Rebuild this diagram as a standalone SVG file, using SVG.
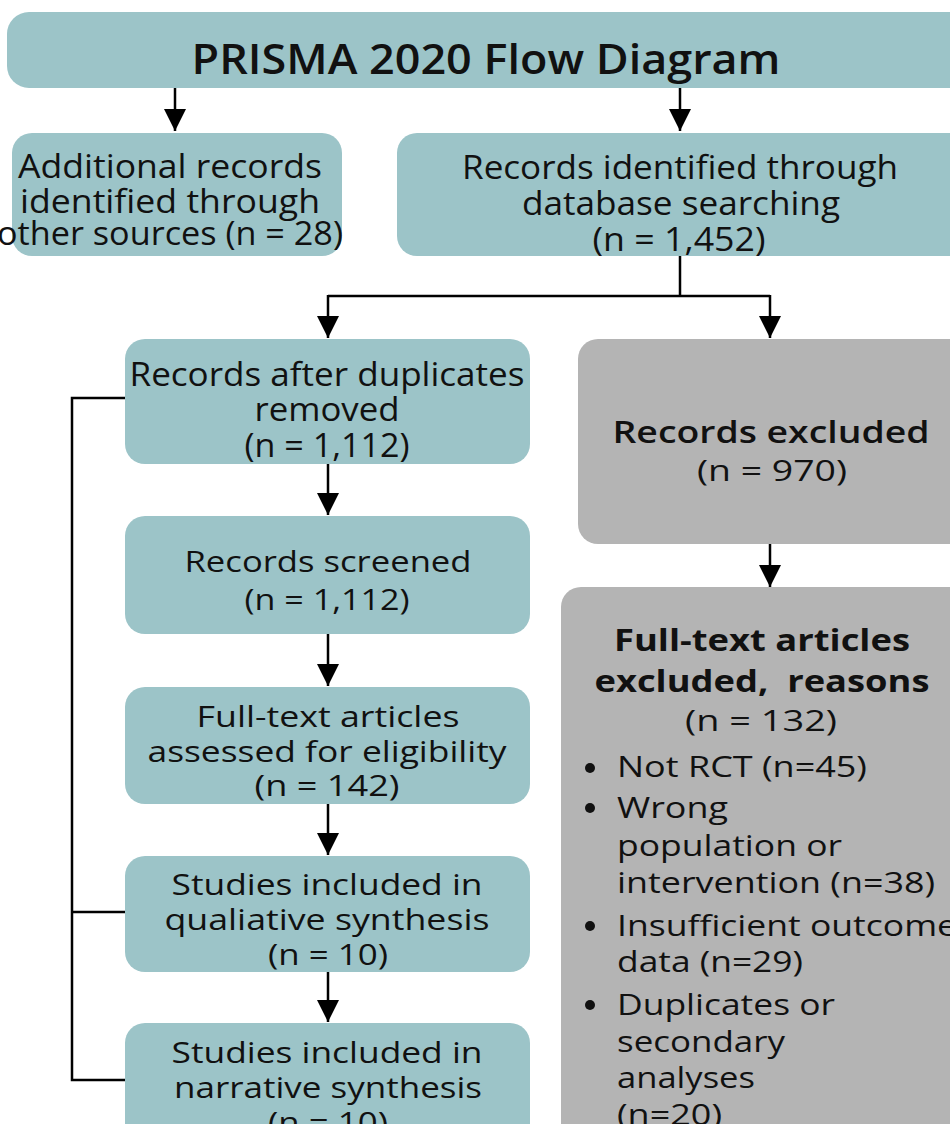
<svg xmlns="http://www.w3.org/2000/svg" width="950" height="1124" viewBox="0 0 950 1124">
<defs>
<style>
.teal{fill:#9cc4c8}
.gray{fill:#b4b4b4}
text{font-family:"Open Sans","Noto Sans","Liberation Sans",sans-serif;fill:#111}
.t{text-anchor:middle}
.u{font-size:32px}
.c{font-size:29px}
.s{font-weight:600}
.bd{font-weight:700;font-size:31px}
.bl{font-size:29px}
.ln{stroke:#000;stroke-width:2.5;fill:none}
.ar{stroke:#000;stroke-width:2.5;fill:none;marker-end:url(#ah)}
</style>
<marker id="ah" markerUnits="userSpaceOnUse" markerWidth="22" markerHeight="22" refX="20" refY="10" orient="auto" viewBox="0 0 20 20">
<path d="M0,0 L20,10 L0,20 z" fill="#000"/>
</marker>
</defs>
<rect width="950" height="1124" fill="#fff"/>

<g id="title">
<rect class="teal" x="7" y="12" width="1000" height="76" rx="22"/>
<text class="t" x="486" y="74" font-size="41" font-weight="600" textLength="589" lengthAdjust="spacingAndGlyphs">PRISMA 2020 Flow Diagram</text>
</g>

<g id="other-sources">
<rect class="teal" x="12" y="133" width="330" height="123" rx="20"/>
<text class="t u" x="170" y="178" textLength="304" lengthAdjust="spacingAndGlyphs">Additional records</text>
<text class="t u" x="170" y="213" textLength="300" lengthAdjust="spacingAndGlyphs">identified through</text>
<text class="t u" x="170" y="245" textLength="346" lengthAdjust="spacingAndGlyphs">other sources (n = 28)</text>
</g>

<g id="database">
<rect class="teal" x="397" y="133" width="600" height="123" rx="20"/>
<text class="t u" x="680" y="179" textLength="436" lengthAdjust="spacingAndGlyphs">Records identified through</text>
<text class="t u" x="681" y="215" textLength="318" lengthAdjust="spacingAndGlyphs">database searching</text>
<text class="t u" x="679" y="251" textLength="173" lengthAdjust="spacingAndGlyphs">(n = 1,452)</text>
</g>

<g id="after-duplicates">
<rect class="teal" x="125" y="339" width="405" height="125" rx="20"/>
<text class="t u" x="327" y="386" textLength="395" lengthAdjust="spacingAndGlyphs">Records after duplicates</text>
<text class="t u" x="327" y="421" textLength="145" lengthAdjust="spacingAndGlyphs">removed</text>
<text class="t u" x="327" y="457" textLength="165" lengthAdjust="spacingAndGlyphs">(n = 1,112)</text>
</g>

<g id="records-excluded">
<rect class="gray" x="578" y="339" width="420" height="205" rx="20"/>
<text class="t s" x="771" y="443" font-size="30" textLength="317" lengthAdjust="spacingAndGlyphs">Records excluded</text>
<text class="t c" x="772" y="481" textLength="150" lengthAdjust="spacingAndGlyphs">(n = 970)</text>
</g>

<g id="screened">
<rect class="teal" x="125" y="516" width="405" height="118" rx="20"/>
<text class="t c" x="328" y="572" textLength="287" lengthAdjust="spacingAndGlyphs">Records screened</text>
<text class="t c" x="327" y="610" textLength="165" lengthAdjust="spacingAndGlyphs">(n = 1,112)</text>
</g>

<g id="eligibility">
<rect class="teal" x="125" y="687" width="405" height="117" rx="20"/>
<text class="t c" x="328" y="727" textLength="263" lengthAdjust="spacingAndGlyphs">Full-text articles</text>
<text class="t c" x="327" y="762" textLength="359" lengthAdjust="spacingAndGlyphs">assessed for eligibility</text>
<text class="t c" x="327" y="796" textLength="145" lengthAdjust="spacingAndGlyphs">(n = 142)</text>
</g>

<g id="qualitative">
<rect class="teal" x="125" y="856" width="405" height="116" rx="20"/>
<text class="t c" x="327" y="895" textLength="311" lengthAdjust="spacingAndGlyphs">Studies included in</text>
<text class="t c" x="327" y="930" textLength="325" lengthAdjust="spacingAndGlyphs">qualiative synthesis</text>
<text class="t c" x="328" y="965" textLength="120" lengthAdjust="spacingAndGlyphs">(n = 10)</text>
</g>

<g id="narrative">
<rect class="teal" x="125" y="1023" width="405" height="130" rx="20"/>
<text class="t c" x="327" y="1063" textLength="311" lengthAdjust="spacingAndGlyphs">Studies included in</text>
<text class="t c" x="328" y="1098" textLength="308" lengthAdjust="spacingAndGlyphs">narrative synthesis</text>
<text class="t c" x="328" y="1133" textLength="120" lengthAdjust="spacingAndGlyphs">(n = 10)</text>
</g>

<g id="fulltext-excluded">
<rect class="gray" x="561" y="587" width="440" height="560" rx="20"/>
<text class="t bd" x="762" y="651" textLength="296" lengthAdjust="spacingAndGlyphs">Full-text articles</text>
<text class="t bd" x="762" y="692" textLength="335" lengthAdjust="spacingAndGlyphs" xml:space="preserve">excluded,  reasons</text>
<text class="t c" x="761" y="731" textLength="152" lengthAdjust="spacingAndGlyphs">(n = 132)</text>
<text class="bl" x="617" y="777" textLength="250" lengthAdjust="spacingAndGlyphs">Not RCT (n=45)</text>
<text class="bl" x="617" y="818" textLength="111" lengthAdjust="spacingAndGlyphs">Wrong</text>
<text class="bl" x="617" y="856" textLength="225" lengthAdjust="spacingAndGlyphs">population or</text>
<text class="bl" x="617" y="893" textLength="318" lengthAdjust="spacingAndGlyphs">intervention (n=38)</text>
<text class="bl" x="617" y="936" textLength="340" lengthAdjust="spacingAndGlyphs">Insufficient outcome</text>
<text class="bl" x="617" y="972" textLength="186" lengthAdjust="spacingAndGlyphs">data (n=29)</text>
<text class="bl" x="617" y="1015" textLength="218" lengthAdjust="spacingAndGlyphs">Duplicates or</text>
<text class="bl" x="617" y="1052" textLength="168" lengthAdjust="spacingAndGlyphs">secondary</text>
<text class="bl" x="617" y="1088" textLength="138" lengthAdjust="spacingAndGlyphs">analyses</text>
<text class="bl" x="617" y="1125" textLength="105" lengthAdjust="spacingAndGlyphs">(n=20)</text>
<circle cx="590" cy="768" r="5" fill="#111"/>
<circle cx="590" cy="808" r="5" fill="#111"/>
<circle cx="590" cy="926" r="5" fill="#111"/>
<circle cx="590" cy="1005" r="5" fill="#111"/>
</g>

<g id="connectors">
<line class="ar" x1="175" y1="88" x2="175" y2="131"/>
<line class="ar" x1="680" y1="88" x2="680" y2="131"/>
<polyline class="ln" points="680,256 680,296"/>
<polyline class="ln" points="328,296 770,296"/>
<line class="ar" x1="328" y1="295" x2="328" y2="338"/>
<line class="ar" x1="770" y1="295" x2="770" y2="338"/>
<line class="ar" x1="328" y1="464" x2="328" y2="515"/>
<line class="ar" x1="328" y1="634" x2="328" y2="686"/>
<line class="ar" x1="328" y1="804" x2="328" y2="855"/>
<line class="ar" x1="328" y1="972" x2="328" y2="1022"/>
<line class="ar" x1="770" y1="544" x2="770" y2="587"/>
<polyline class="ln" points="125,398 72,398 72,1080 125,1080"/>
<line class="ln" x1="72" y1="912" x2="125" y2="912"/>
</g>
</svg>
